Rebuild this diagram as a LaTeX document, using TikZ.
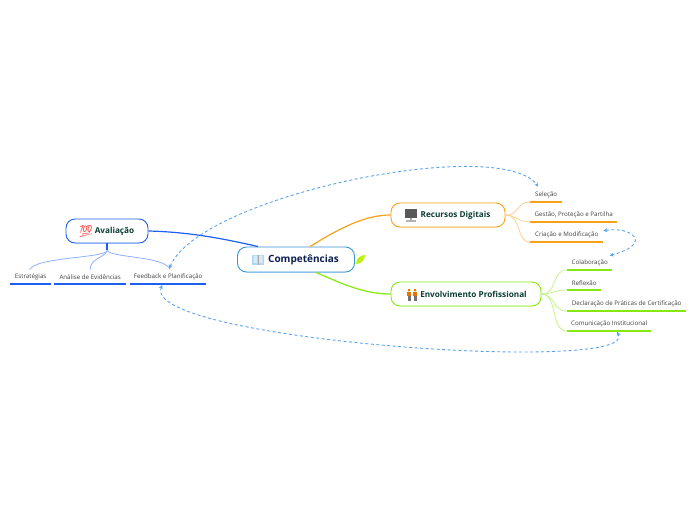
\documentclass[tikz,border=0pt]{standalone}
\usepackage{fontspec}
\usetikzlibrary{arrows.meta}
\setmainfont{Open Sans}
\newfontfamily\emojifont{Noto Emoji}
\definecolor{rootblue}{HTML}{3A94D8}
\definecolor{rootpale}{HTML}{8CC4EC}
\definecolor{evalblue}{HTML}{1F5FF0}
\definecolor{evalpale}{HTML}{8FB0FF}
\definecolor{digorange}{HTML}{F9A01B}
\definecolor{digpale}{HTML}{FFD08F}
\definecolor{profgreen}{HTML}{86E80F}
\definecolor{profpale}{HTML}{C4F58A}
\definecolor{linkblue}{HTML}{5BA2EE}
\definecolor{roottext}{HTML}{0B1F4F}
\definecolor{maintext}{HTML}{0B3D33}
\tikzset{
  topic/.style={draw, line width=0.9pt, fill=white, rounded corners=9pt, minimum height=24pt, inner sep=0pt, font=\fontsize{8.2}{10}\selectfont\bfseries, text=maintext},
  leaf/.style={anchor=south west, minimum height=14pt, inner sep=0pt, font=\fontsize{6.2}{8}\selectfont, text=black!75},
  link/.style={linkblue, dash pattern=on 3pt off 2.5pt, line width=0.9pt, <->, >={Stealth[length=4pt,width=4pt]}}
}
\begin{document}
\begin{tikzpicture}[x=1pt, y=-1pt]
  \useasboundingbox (0,0) rectangle (696,520);

  % Topics
  \node[topic, draw=rootblue, minimum width=117pt, minimum height=25pt, font=\fontsize{10}{12}\selectfont\bfseries, text=roottext] (root) at (296,259.5) {\hspace{15pt}Competências};
  \node[topic, draw=evalblue, minimum width=82pt] (eval) at (107,231) {\hspace{15pt}Avaliação};
  \node[topic, draw=digorange, minimum width=114pt] (dig) at (448,215) {\hspace{15pt}Recursos Digitais};
  \node[topic, draw=profgreen, minimum width=150pt] (prof) at (466,294) {\hspace{15pt}Envolvimento Profissional};

  % Leaves
  \node[leaf, minimum width=41pt] (estr) at (10,284) {Estratégias};
  \node[leaf, minimum width=72pt] (anal) at (54,284) {Análise de Evidências};
  \node[leaf, minimum width=76pt] (feed) at (130,284) {Feedback e Planificação};
  \node[leaf, minimum width=32pt] (sele) at (530,202) {Seleção};
  \node[leaf, minimum width=87pt] (gest) at (530,222) {Gestão, Proteção e Partilha};
  \node[leaf, minimum width=73pt] (cria) at (530,242) {Criação e Modificação};
  \node[leaf, minimum width=45pt] (cola) at (567,270) {Colaboração};
  \node[leaf, minimum width=34pt] (refl) at (567,290) {Reflexão};
  \node[leaf, minimum width=119pt] (decl) at (567,311) {Declaração de Práticas de Certificação};
  \node[leaf, minimum width=84pt] (comu) at (567,331) {Comunicação Institucional};

  % Leaf underlines
  \foreach \leafname in {estr,anal,feed}
    \draw[evalblue, line width=1.1pt] (\leafname.south west) -- (\leafname.south east);
  \foreach \leafname in {sele,gest,cria}
    \draw[digorange, line width=1.1pt] (\leafname.south west) -- (\leafname.south east);
  \foreach \leafname in {cola,refl,decl,comu}
    \draw[profgreen, line width=1.1pt] (\leafname.south west) -- (\leafname.south east);

  % Thicker bottom edges
  \draw[rootpale, line width=1.4pt] ([xshift=9pt]root.south west) -- ([xshift=-9pt]root.south east);
  \draw[evalpale, line width=1.2pt] ([xshift=9pt]eval.south west) -- ([xshift=-9pt]eval.south east);
  \draw[digpale, line width=1.2pt] ([xshift=9pt]dig.south west) -- ([xshift=-9pt]dig.south east);
  \draw[profpale, line width=1.2pt] ([xshift=9pt]prof.south west) -- ([xshift=-9pt]prof.south east);

  % Main branches
  \draw[evalblue, line width=1.2pt] (eval.east) .. controls (190,232) and (225,239) .. ([xshift=-38pt]root.north);
  \draw[digorange, line width=1.2pt] ([xshift=14pt]root.north) .. controls (340,228) and (365,215) .. (dig.west);
  \draw[profgreen, line width=1.2pt] ([xshift=20pt]root.south) .. controls (345,285) and (365,294) .. (prof.west);

  % Leaf branches
  \draw[evalblue, line width=1.1pt] (eval.south) -- ++(0,7);
  \draw[evalpale, line width=0.8pt] ([yshift=-7pt]eval.south) .. controls (107,258) and (35,257) .. ([xshift=-1pt]estr.north);
  \draw[evalpale, line width=0.8pt] ([yshift=-7pt]eval.south) .. controls (105,258) and (90,258) .. (anal.north);
  \draw[evalpale, line width=0.8pt] ([yshift=-7pt]eval.south) .. controls (112,258) and (165,256) .. ([xshift=2pt]feed.north);
  \draw[digpale, line width=0.8pt] (dig.east) .. controls (520,215) and (516,202) .. (sele.south west);
  \draw[digpale, line width=0.8pt] (dig.east) .. controls (516,215) and (518,222) .. (gest.south west);
  \draw[digpale, line width=0.8pt] (dig.east) .. controls (522,215) and (516,242) .. (cria.south west);
  \draw[profpale, line width=0.8pt] (prof.east) .. controls (558,294) and (551,270) .. (cola.south west);
  \draw[profpale, line width=0.8pt] (prof.east) .. controls (552,294) and (555,290) .. (refl.south west);
  \draw[profpale, line width=0.8pt] (prof.east) .. controls (555,294) and (552,311) .. (decl.south west);
  \draw[profpale, line width=0.8pt] (prof.east) .. controls (558,294) and (550,331) .. (comu.south west);

  % Dashed links
  \draw[link] ([xshift=1pt,yshift=1pt]feed.north) .. controls (200,195) and (500,135) .. ([xshift=-8pt,yshift=1pt]sele.north);
  \draw[link] ([xshift=-6pt,yshift=-1pt]feed.south) .. controls (140,340) and (640,375) .. ([xshift=8pt,yshift=-1pt]comu.south);
  \draw[link] ([yshift=4pt]cria.east) .. controls (630,226) and (655,243) .. ([xshift=20pt]cola.north);

  % Icons
  \node[font=\emojifont\fontsize{12}{12}\selectfont, text=red!75, inner sep=0pt] (hundred) at (86,231) {💯};
  % book
  \fill[rootpale!70] (252,254.5) rectangle (264,264.5);
  \fill[black!35] (257.6,254.5) rectangle (258.4,264.5);
  \fill[white!80!rootblue] (253.5,255.5) rectangle (257,263) (259,255.5) rectangle (262.5,263);
  % monitor
  \fill[black!65] (405,209) rectangle (417,218);
  \fill[black!35] (410,218) rectangle (412,220);
  \fill[black!30] (406,220) rectangle (416,221.5);
  % people
  \foreach \px in {409,415} {
    \fill[orange!90!black] (\px,290) circle (1.5pt);
    \fill[orange!90!black] (\px-1.8,292) rectangle (\px+1.8,296);
    \fill[black!55] (\px-1.5,296) rectangle (\px+1.5,301);
  }

  % Leaf mark next to the root
  \fill[profgreen!55!yellow] (356,264) .. controls (356,258) and (361,255) .. (365,255) .. controls (365,260) and (361,264) .. (356,264) -- cycle;
\end{tikzpicture}
\end{document}
